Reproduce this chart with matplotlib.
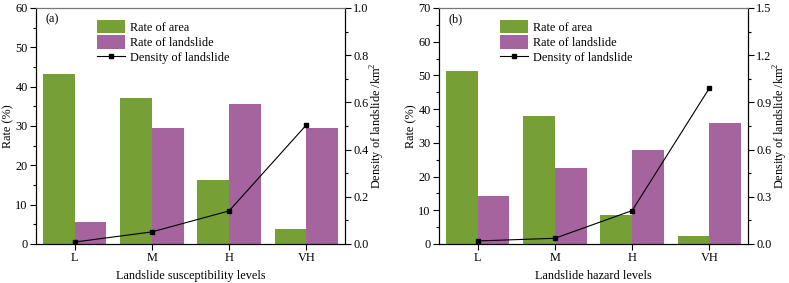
import numpy as np
import matplotlib
matplotlib.use('Agg')
import matplotlib.pyplot as plt
from matplotlib.ticker import MultipleLocator

plt.rcParams['font.family'] = ['Liberation Serif', 'DejaVu Serif']
plt.rcParams['font.size'] = 8.8
plt.rcParams['mathtext.fontset'] = 'custom'
plt.rcParams['mathtext.rm'] = 'Liberation Serif'

levels = ['L', 'M', 'H', 'VH']

# (a) susceptibility
area_a = [43.1, 37.0, 16.3, 3.7]
slide_a = [5.5, 29.4, 35.7, 29.4]
density_a = [0.008, 0.051, 0.14, 0.504]

# (b) hazard
area_b = [51.3, 38.0, 8.6, 2.3]
slide_b = [14.1, 22.6, 28.0, 35.8]
density_b = [0.019, 0.036, 0.212, 0.99]

GREEN = '#76A035'
PURPLE = '#A5649E'


def panel(ax, area, slide, density, tag, xlabel, ymax, ystep, y2max, y2step):
    x = np.arange(len(levels))
    w = 0.41
    ax.bar(x - w / 2, area, w, color=GREEN, label='Rate of area')
    ax.bar(x + w / 2, slide, w, color=PURPLE, label='Rate of landslide')
    ax.set_xlim(-0.5, len(levels) - 0.5)
    ax.set_ylim(0, ymax)
    ax.yaxis.set_major_locator(MultipleLocator(ystep))
    ax.yaxis.set_minor_locator(MultipleLocator(ystep / 2))
    ax.set_xticks(x)
    ax.set_xticklabels(levels)
    ax.set_ylabel('Rate (%)', labelpad=1)
    ax.set_xlabel(xlabel, labelpad=4)
    ax.tick_params(direction='out', length=4, width=0.8, pad=2)
    ax.tick_params(which='minor', direction='out', length=2.5, width=0.8)
    ax.text(0.03, 0.95, tag, transform=ax.transAxes, va='center', ha='left')

    ax2 = ax.twinx()
    ax2.plot(x, density, '-', color='black', lw=0.8, marker='s', ms=3.5,
             label='Density of landslide')
    ax2.set_ylim(0, y2max)
    ax2.yaxis.set_major_locator(MultipleLocator(y2step))
    ax2.yaxis.set_minor_locator(MultipleLocator(y2step / 2))
    ax2.yaxis.set_major_formatter(plt.FormatStrFormatter('%.1f'))
    ax2.set_ylabel('Density of landslide /km$^2$', labelpad=0)
    ax2.tick_params(direction='out', length=4, width=0.8, pad=2)
    ax2.tick_params(which='minor', direction='out', length=2.5, width=0.8)
    for a in (ax, ax2):
        a.spines['top'].set_color('#777777')

    h1, l1 = ax.get_legend_handles_labels()
    h2, l2 = ax2.get_legend_handles_labels()
    ax.legend(h1 + h2, l1 + l2, loc='upper left', bbox_to_anchor=(0.17, 0.985),
              frameon=False, handlelength=2.3, handleheight=1.3,
              labelspacing=0.12, handletextpad=0.4, borderpad=0.2)
    return ax2


fig = plt.figure(figsize=(7.89, 2.83), dpi=100)
ax_a = fig.add_axes([0.0456, 0.138, 0.3916, 0.834])
ax_b = fig.add_axes([0.5564, 0.138, 0.3916, 0.834])

panel(ax_a, area_a, slide_a, density_a, '(a)', 'Landslide susceptibility levels',
      60, 10, 1.0, 0.2)
panel(ax_b, area_b, slide_b, density_b, '(b)', 'Landslide hazard levels',
      70, 10, 1.5, 0.3)

fig.savefig('out.png', dpi=100)
